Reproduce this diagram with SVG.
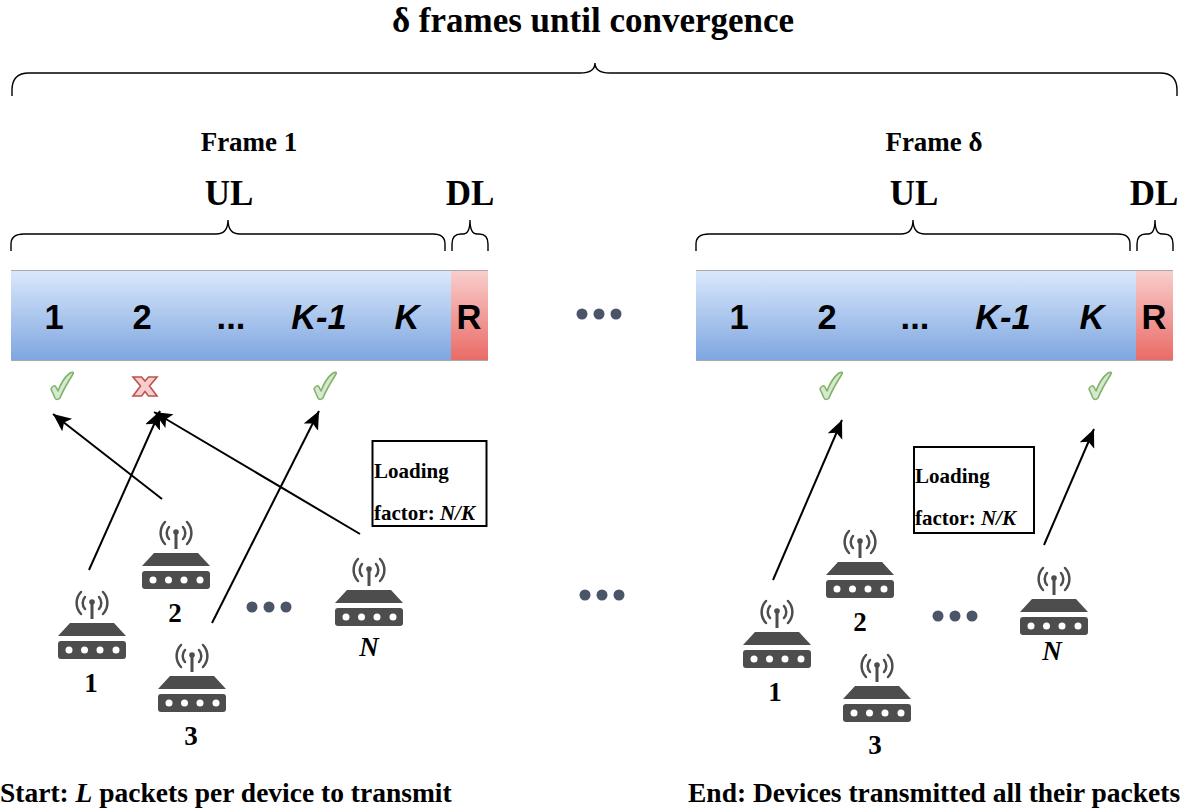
<svg xmlns="http://www.w3.org/2000/svg" xmlns:xlink="http://www.w3.org/1999/xlink" width="1184" height="809" viewBox="0 0 1184 809">
<style>
.t{font-family:"Liberation Serif",serif;font-weight:bold;fill:#000}
.s{font-family:"Liberation Sans",sans-serif;font-weight:bold;font-size:34.500px;text-anchor:middle;fill:#000}
.i{font-style:italic}
.m{text-anchor:middle}
.b{fill:none;stroke:#000;stroke-width:1.4}
.c{fill:none;stroke:#000;stroke-width:2}
.d{fill:#4a5568}
.box{fill:#fff;stroke:#000;stroke-width:2}
.ok{fill:#d5e8d4;stroke:#82b366;stroke-width:1.6;stroke-linejoin:round}
.no{fill:#f8cecc;stroke:#b85450;stroke-width:1.6;stroke-linejoin:miter}
</style>
<defs>
<linearGradient id="blue" x1="0" y1="0" x2="0" y2="1"><stop offset="0" stop-color="#dae8fc"/><stop offset="1" stop-color="#7ea6e0"/></linearGradient>
<linearGradient id="red" x1="0" y1="0" x2="0" y2="1"><stop offset="0" stop-color="#f8cecc"/><stop offset="1" stop-color="#ea6b66"/></linearGradient>
<marker id="arrow" markerUnits="userSpaceOnUse" markerWidth="22" markerHeight="18" refX="18" refY="8" orient="auto"><path d="M0 0L18 8L0 16L4 8Z" fill="#000"/></marker>
<g id="dev">
<g fill="none" stroke="#4d4d4d" stroke-width="2.500" stroke-linecap="round"><path d="M-7 -31a9 9 0 0 0 0 12M7 -31a9 9 0 0 1 0 12"/><path d="M-11 -36a16 16 0 0 0 0 22M11 -36a16 16 0 0 1 0 22"/></g>
<circle cx="0" cy="-26" r="2.800" fill="#4d4d4d"/><rect x="-1.500" y="-26" width="3" height="17" fill="#4d4d4d"/>
<path d="M-22 -5H22L34 8H-34Z" fill="#4d4d4d"/>
<rect x="-34" y="13" width="68" height="18" rx="3" fill="#4d4d4d"/>
<g fill="#fff"><circle cx="-23" cy="22" r="3.500"/><circle cx="-7.500" cy="22" r="3.500"/><circle cx="8" cy="22" r="3.500"/><circle cx="24" cy="22" r="3.500"/></g>
</g>
<path id="check" d="M-11 3C-10 0-7-1-6 1L-4 5C-1-3 4-10 8-13C10-14 12-14 11-12C6-4 1 4-2 12C-4 14-6 14-7 12Z"/>
<path id="cross" d="M-12-10H-3.500L0-6L3.500-10H12L4.500-1L12 9H3.500L0 4.500L-3.500 9H-12L-4.500-1Z"/>
</defs>

<text class="t m" x="593" y="32" font-size="35">δ frames until convergence</text>
<path class="b" d="M12 96V90Q12 73 29 73H580Q595 73 595 63Q595 73 610 73H1160Q1177 73 1177 90V96"/>

<g id="frame1">
<text class="t m" x="249" y="151" font-size="27">Frame 1</text>
<text class="t m" x="229" y="205" font-size="35">UL</text>
<text class="t m" x="470" y="205" font-size="35">DL</text>
<path class="b" d="M11 251V244Q11 234 24 234H216Q228 234 228 220Q228 234 240 234H433Q445 234 445 244V251"/>
<path class="b" d="M452 251V244Q452 234 461 234H463Q470 234 470 220Q470 234 477 234H479Q488 234 488 244V251"/>
<rect x="11" y="271" width="441" height="89" fill="url(#blue)"/>
<rect x="451" y="271" width="37" height="89" fill="url(#red)"/>
<path d="M11 270.500H488M11 360.500H488" stroke="#aaa" stroke-width="1.200"/>
<text class="s" x="54" y="329">1</text><text class="s" x="142" y="329">2</text><text class="s" x="231" y="329">...</text><text class="s i" x="319" y="329">K-1</text><text class="s i" x="407" y="329">K</text><text class="s" x="469" y="329">R</text>
<use xlink:href="#check" href="#check" x="62" y="386" class="ok"/>
<use xlink:href="#cross" href="#cross" x="145" y="387" class="no"/>
<use xlink:href="#check" href="#check" x="325" y="386" class="ok"/>
</g>

<g id="frame2">
<text class="t m" x="934" y="151" font-size="27">Frame δ</text>
<text class="t m" x="914" y="205" font-size="35">UL</text>
<text class="t m" x="1154" y="205" font-size="35">DL</text>
<path class="b" d="M696 251V244Q696 234 709 234H901Q913 234 913 220Q913 234 925 234H1118Q1130 234 1130 244V251"/>
<path class="b" d="M1137 251V244Q1137 234 1146 234H1148Q1155 234 1155 220Q1155 234 1162 234H1164Q1173 234 1173 244V251"/>
<rect x="696" y="271" width="441" height="89" fill="url(#blue)"/>
<rect x="1136" y="271" width="37" height="89" fill="url(#red)"/>
<path d="M696 270.500H1173M696 360.500H1173" stroke="#aaa" stroke-width="1.200"/>
<text class="s" x="739" y="329">1</text><text class="s" x="827" y="329">2</text><text class="s" x="915" y="329">...</text><text class="s i" x="1003" y="329">K-1</text><text class="s i" x="1092" y="329">K</text><text class="s" x="1154" y="329">R</text>
<use xlink:href="#check" href="#check" x="831" y="386" class="ok"/>
<use xlink:href="#check" href="#check" x="1100" y="386" class="ok"/>
</g>

<g id="dots">
<g class="d"><circle cx="582" cy="314" r="5.500"/><circle cx="599" cy="314" r="5.500"/><circle cx="616" cy="314" r="5.500"/>
<circle cx="585" cy="595" r="5.500"/><circle cx="602" cy="595" r="5.500"/><circle cx="619" cy="595" r="5.500"/>
<circle cx="252" cy="607" r="5.500"/><circle cx="269" cy="607" r="5.500"/><circle cx="286" cy="607" r="5.500"/>
<circle cx="938" cy="616" r="5.500"/><circle cx="955" cy="616" r="5.500"/><circle cx="972" cy="616" r="5.500"/></g>
</g>

<g id="connectors">
<path class="c" d="M89 570L160 411" marker-end="url(#arrow)"/>
<path class="c" d="M162 499L53 414" marker-end="url(#arrow)"/>
<path class="c" d="M212 623L319 411" marker-end="url(#arrow)"/>
<path class="c" d="M360 534L154 412" marker-end="url(#arrow)"/>
<path class="c" d="M773 580L842 420" marker-end="url(#arrow)"/>
<path class="c" d="M1044 545L1094 429" marker-end="url(#arrow)"/>
</g>

<g id="load1"><rect class="box" x="372.500" y="441" width="114" height="85"/>
<text class="t" x="374" y="478" font-size="21">Loading</text>
<text class="t" x="374" y="520" font-size="21">factor: <tspan class="i">N/K</tspan></text></g>
<g id="load2"><rect class="box" x="914" y="447" width="120" height="86"/>
<text class="t" x="915" y="483" font-size="21">Loading</text>
<text class="t" x="915" y="525" font-size="21">factor: <tspan class="i">N/K</tspan></text></g>

<g id="d1-1"><use xlink:href="#dev" href="#dev" x="92" y="628"/><text class="t m" x="91" y="692" font-size="27">1</text></g>
<g id="d1-2"><use xlink:href="#dev" href="#dev" x="176" y="558"/><text class="t m" x="175" y="622" font-size="27">2</text></g>
<g id="d1-3"><use xlink:href="#dev" href="#dev" x="192" y="681"/><text class="t m" x="191" y="745" font-size="27">3</text></g>
<g id="d1-n"><use xlink:href="#dev" href="#dev" x="369" y="595"/><text class="t m i" x="369" y="656" font-size="27">N</text></g>
<g id="d2-1"><use xlink:href="#dev" href="#dev" x="777" y="637"/><text class="t m" x="775" y="701" font-size="27">1</text></g>
<g id="d2-2"><use xlink:href="#dev" href="#dev" x="860" y="567"/><text class="t m" x="860" y="631" font-size="27">2</text></g>
<g id="d2-3"><use xlink:href="#dev" href="#dev" x="877" y="691"/><text class="t m" x="875" y="754" font-size="27">3</text></g>
<g id="d2-n"><use xlink:href="#dev" href="#dev" x="1054" y="604"/><text class="t m i" x="1052" y="660" font-size="27">N</text></g>

<text class="t" x="0" y="802" font-size="27.500">Start: <tspan class="i">L</tspan> packets per device to transmit</text>
<text class="t" x="688" y="802" font-size="27.500">End: Devices transmitted all their packets</text>
</svg>
